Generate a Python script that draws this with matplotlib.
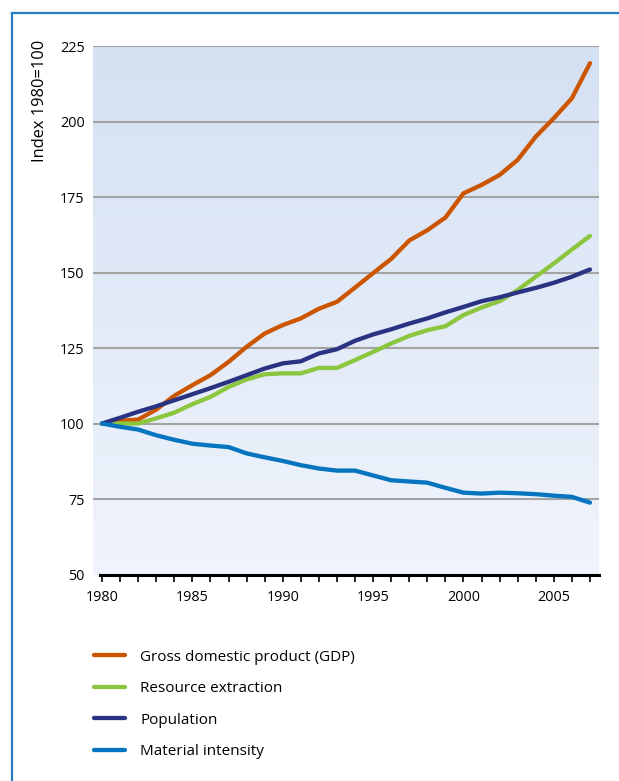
import numpy as np
import matplotlib
matplotlib.use("Agg")
import matplotlib.pyplot as plt
from matplotlib.lines import Line2D
from matplotlib.colors import LinearSegmentedColormap

plt.rcParams['font.family'] = ['Open Sans', 'DejaVu Sans']

years = list(range(1980, 2008))
gdp = [100, 100.9, 101.3, 104.6, 109.2, 112.7, 116.0, 120.4, 125.4, 129.8,
       132.6, 134.8, 138.0, 140.3, 145.0, 149.8, 154.5, 160.6, 164.0, 168.2,
       176.2, 179.0, 182.3, 187.3, 195.0, 201.1, 207.7, 219.3]
resource = [100, 100.0, 100.0, 101.7, 103.6, 106.4, 108.8, 112.1, 114.6, 116.3,
            116.6, 116.6, 118.4, 118.4, 121.0, 123.7, 126.5, 129.0, 130.9, 132.2,
            135.9, 138.4, 140.5, 144.2, 148.6, 153.0, 157.6, 162.1]
population = [100, 101.9, 103.9, 105.7, 107.7, 109.7, 111.7, 113.8, 116.0, 118.2,
              119.9, 120.6, 123.2, 124.6, 127.4, 129.5, 131.2, 133.1, 134.8, 136.8,
              138.6, 140.5, 141.8, 143.4, 144.9, 146.6, 148.6, 151.0]
material = [100, 98.9, 98.0, 96.1, 94.6, 93.3, 92.7, 92.2, 90.1, 88.8,
            87.6, 86.2, 85.1, 84.4, 84.4, 82.8, 81.2, 80.8, 80.4, 78.7,
            77.1, 76.8, 77.1, 76.9, 76.6, 76.1, 75.7, 73.8]

labels = ["Gross domestic product (GDP)", "Resource extraction", "Population", "Material intensity"]
colors = ["#cc5500", "#8cc63f", "#2a3282", "#0674bf"]
series = [gdp, resource, population, material]
yticks = [50, 75, 100, 125, 150, 175, 200, 225]
xticklabels = [1980, 1985, 1990, 1995, 2000, 2005]

W, H = 619, 781
fig = plt.figure(figsize=(W / 100, H / 100), dpi=100)
fig.patch.set_facecolor("white")

ax = fig.add_axes([93 / W, 1 - 574.5 / H, (599 - 93) / W, (574.5 - 46) / H])
ax.set_xlim(1979.5, 2007.5)
ax.set_ylim(50, 225)

# gradient background
cmap = LinearSegmentedColormap.from_list("bg", ["#f0f4fc", "#d4e1f3"])
grad = np.linspace(0, 1, 256).reshape(-1, 1)
ax.imshow(grad, extent=[1979.5, 2007.5, 50, 225], origin="lower", aspect="auto",
          cmap=cmap, zorder=0)

for y in yticks[1:]:
    ax.axhline(y, color="#a3a3a3", lw=1.5, zorder=1)

for vals, c, lab in zip(series, colors, labels):
    ax.plot(years, vals, color=c, lw=3.1, solid_capstyle="round",
            solid_joinstyle="round", zorder=3, label=lab)

for s in ["top", "right", "left"]:
    ax.spines[s].set_visible(False)
ax.spines["bottom"].set_linewidth(2.2)
ax.spines["bottom"].set_color("black")
ax.spines["bottom"].set_bounds(1979.9, 2007.5)

ax.set_xticks(years)
ax.set_xticklabels([str(y) if y in xticklabels else "" for y in years], fontsize=10.4)
ax.tick_params(axis="x", direction="out", length=5, width=1.2, pad=6, color="black")
ax.set_yticks(yticks)
ax.set_yticklabels([str(v) for v in yticks], fontsize=10.4)
ax.tick_params(axis="y", length=0, pad=6)

fig.text(40 / W, 1 - 40 / H, "Index 1980=100", rotation=90, va="top", ha="center",
         fontsize=11.8)

# legend
handles = [Line2D([0], [0], color=c, lw=3.1, solid_capstyle="round") for c in colors]
leg = fig.legend(handles, labels, loc="upper left",
                 bbox_to_anchor=(80 / W, 1 - 636 / H), frameon=False,
                 fontsize=11, handlelength=2.05, handletextpad=1.0,
                 labelspacing=1.08)

# frame border
fig.add_artist(Line2D([12 / W, 12 / W], [0, 1 - 13 / H], transform=fig.transFigure,
                      color="#2a7cc0", lw=1.6))
fig.add_artist(Line2D([12 / W, 1.0], [1 - 13 / H, 1 - 13 / H], transform=fig.transFigure,
                      color="#2a7cc0", lw=1.6))

fig.savefig("out.png", dpi=100)
